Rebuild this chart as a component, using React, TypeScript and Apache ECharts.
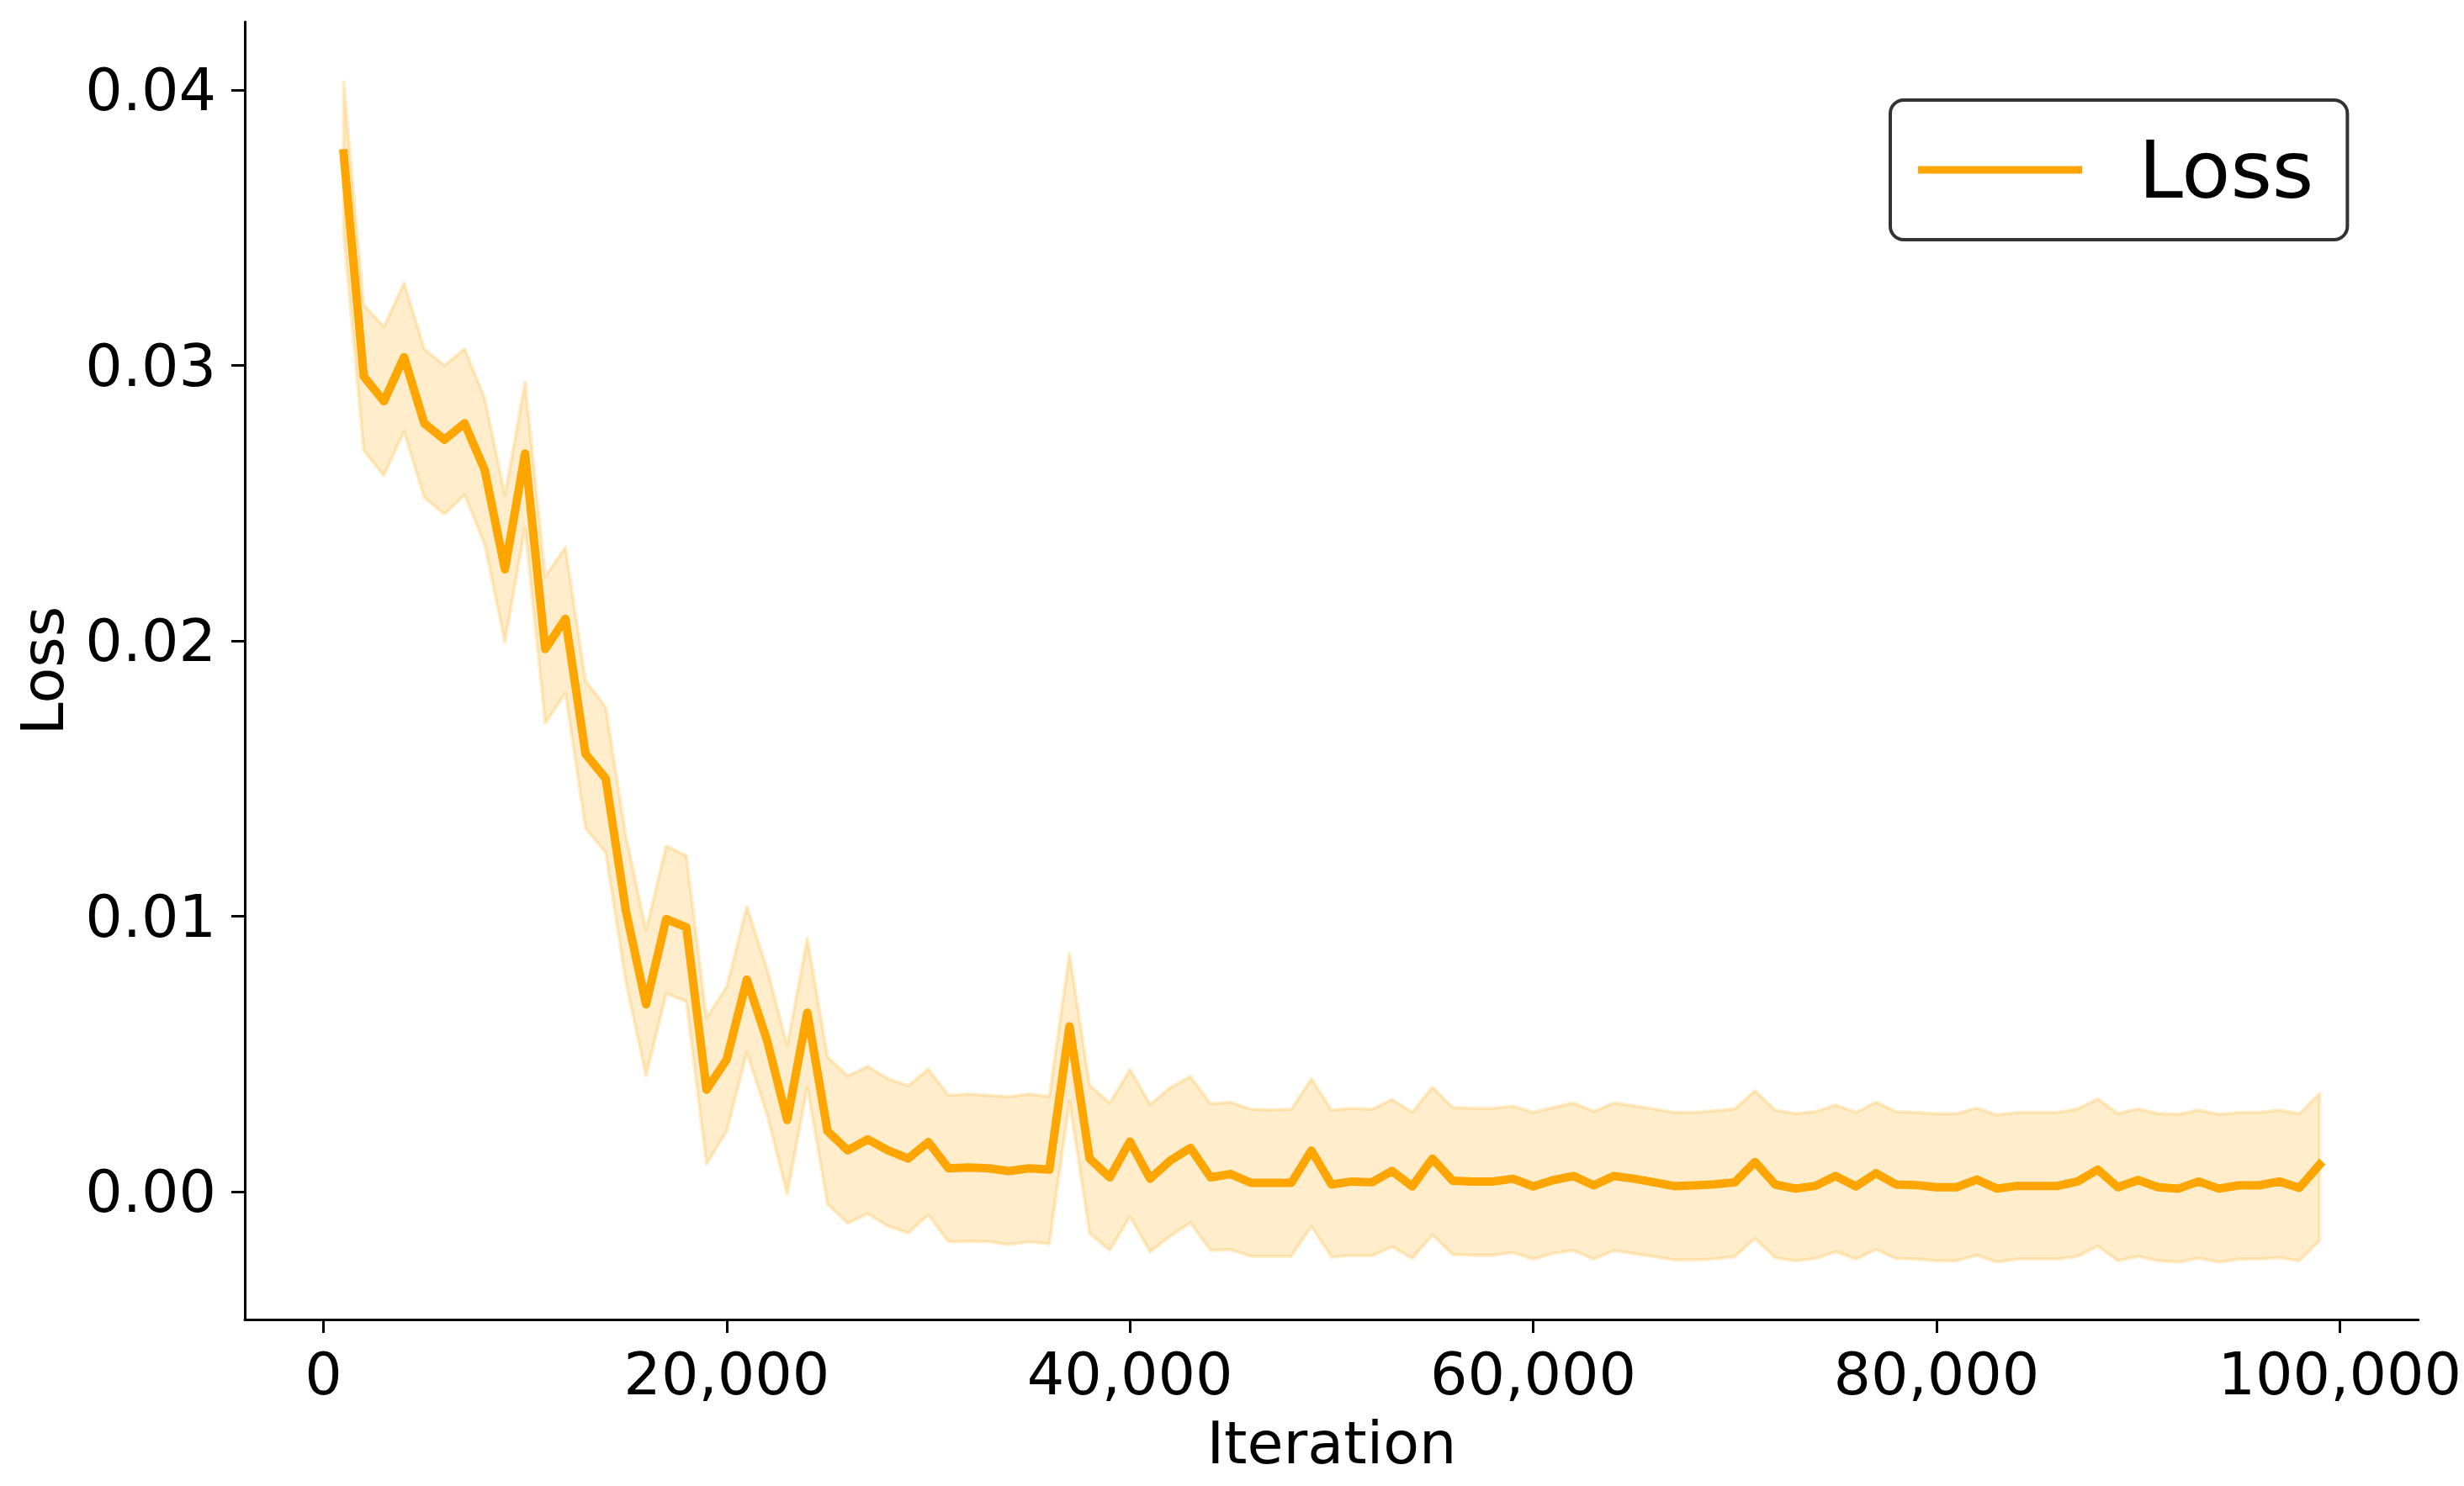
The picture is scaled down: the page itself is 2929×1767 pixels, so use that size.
import React, { useEffect, useRef } from "react";
import * as echarts from "echarts";

// ---- data (loss values in units of 1e-3 are converted below) ----
const iterations: number[] = [
  1000, 2000, 3000, 4000, 5000, 6000, 7000, 8000, 9000, 10000,
  11000, 12000, 13000, 14000, 15000, 16000, 17000, 18000, 19000, 20000,
  21000, 22000, 23000, 24000, 25000, 26000, 27000, 28000, 29000, 30000,
  31000, 32000, 33000, 34000, 35000, 36000, 37000, 38000, 39000, 40000,
  41000, 42000, 43000, 44000, 45000, 46000, 47000, 48000, 49000, 50000,
  51000, 52000, 53000, 54000, 55000, 56000, 57000, 58000, 59000, 60000,
  61000, 62000, 63000, 64000, 65000, 66000, 67000, 68000, 69000, 70000,
  71000, 72000, 73000, 74000, 75000, 76000, 77000, 78000, 79000, 80000,
  81000, 82000, 83000, 84000, 85000, 86000, 87000, 88000, 89000, 90000,
  91000, 92000, 93000, 94000, 95000, 96000, 97000, 98000, 99000,
];

// mean loss (x1e-3)
const lossMean: number[] = [
  37.7, 29.6, 28.7, 30.3, 27.9, 27.3, 27.9, 26.2, 22.6, 26.8,
  19.7, 20.8, 15.9, 15.0, 10.2, 6.8, 9.9, 9.6, 3.7, 4.8,
  7.7, 5.5, 2.6, 6.5, 2.2, 1.5, 1.9, 1.5, 1.2, 1.8,
  0.85, 0.88, 0.85, 0.75, 0.85, 0.8, 6.0, 1.2, 0.52, 1.82,
  0.47, 1.13, 1.59, 0.52, 0.64, 0.32, 0.32, 0.32, 1.49, 0.26,
  0.37, 0.34, 0.75, 0.19, 1.2, 0.4, 0.37, 0.37, 0.47, 0.19,
  0.42, 0.57, 0.23, 0.57, 0.47, 0.34, 0.2, 0.23, 0.27, 0.34,
  1.08, 0.26, 0.11, 0.21, 0.57, 0.19, 0.67, 0.26, 0.24, 0.16,
  0.16, 0.44, 0.11, 0.21, 0.21, 0.21, 0.37, 0.8, 0.16, 0.42,
  0.16, 0.11, 0.37, 0.11, 0.23, 0.23, 0.37, 0.14, 0.98,
];

// upper edge of the shaded band (x1e-3)
const lossUpper: number[] = [
  40.3, 32.2, 31.4, 33.0, 30.6, 30.0, 30.6, 28.8, 25.3, 29.4,
  22.35, 23.4, 18.55, 17.6, 12.9, 9.5, 12.55, 12.2, 6.3, 7.45,
  10.35, 8.1, 5.3, 9.2, 4.9, 4.2, 4.55, 4.1, 3.85, 4.45,
  3.5, 3.55, 3.5, 3.45, 3.54, 3.46, 8.65, 3.86, 3.22, 4.44,
  3.17, 3.78, 4.18, 3.19, 3.25, 2.99, 2.98, 2.99, 4.1, 2.96,
  3.03, 2.99, 3.35, 2.88, 3.8, 3.06, 3.03, 3.03, 3.11, 2.88,
  3.06, 3.22, 2.91, 3.22, 3.12, 3.0, 2.88, 2.88, 2.94, 3.01,
  3.67, 2.96, 2.84, 2.91, 3.15, 2.88, 3.25, 2.91, 2.88, 2.83,
  2.83, 3.04, 2.79, 2.88, 2.88, 2.88, 3.01, 3.37, 2.84, 3.01,
  2.84, 2.81, 2.96, 2.81, 2.88, 2.88, 2.96, 2.83, 3.57,
];

// lower edge of the shaded band (x1e-3)
const lossLower: number[] = [
  34.8, 26.9, 26.0, 27.6, 25.2, 24.6, 25.3, 23.5, 19.95, 24.1,
  17.0, 18.1, 13.2, 12.3, 7.6, 4.2, 7.2, 6.9, 1.0, 2.2,
  5.05, 2.8, -0.1, 3.8, -0.45, -1.15, -0.8, -1.25, -1.5, -0.85,
  -1.82, -1.8, -1.82, -1.92, -1.82, -1.89, 3.28, -1.52, -2.13, -0.91,
  -2.18, -1.62, -1.13, -2.13, -2.11, -2.35, -2.35, -2.35, -1.26, -2.38,
  -2.31, -2.33, -2.0, -2.43, -1.57, -2.28, -2.31, -2.31, -2.21, -2.45,
  -2.24, -2.14, -2.45, -2.14, -2.25, -2.36, -2.48, -2.48, -2.44, -2.36,
  -1.7, -2.4, -2.51, -2.43, -2.18, -2.45, -2.1, -2.43, -2.45, -2.51,
  -2.51, -2.31, -2.56, -2.45, -2.45, -2.45, -2.35, -1.98, -2.51, -2.35,
  -2.51, -2.56, -2.41, -2.56, -2.45, -2.45, -2.4, -2.51, -1.77,
];

const xTickValues: number[] = [0, 20000, 40000, 60000, 80000, 100000];
const yTickValues: number[] = [0, 0.01, 0.02, 0.03, 0.04];

const SCALE = 0.001;
const FONT = "DejaVu Sans";
const ORANGE = "#FFA500";

export default function App() {
  const ref = useRef<HTMLDivElement>(null);

  useEffect(() => {
    document.body.style.margin = "0";
    if (!ref.current) return;
    const chart = echarts.init(ref.current, null, { renderer: "svg" });

    const meanData = iterations.map((x, i) => [x, lossMean[i] * SCALE]);
    const bandData = iterations.map((x, i) => [x, lossLower[i] * SCALE, lossUpper[i] * SCALE]);

    const option: any = {
      animation: false,
      backgroundColor: "#ffffff",
      grid: { left: 291, right: 52, top: 26, bottom: 198, containLabel: false },
      legend: {
        show: true,
        data: [{ name: "Loss", icon: "rect" }],
        left: 2247,
        top: 119,
        orient: "horizontal",
        itemWidth: 195,
        itemHeight: 9,
        padding: [35, 40, 35, 33],
        backgroundColor: "#ffffff",
        borderColor: "#333333",
        borderWidth: 4,
        borderRadius: 16,
        textStyle: {
          fontFamily: FONT,
          fontSize: 95,
          color: "#000000",
          lineHeight: 96,
          padding: [0, 0, 0, 62],
        },
      },
      xAxis: {
        type: "value",
        min: -3900,
        max: 103900,
        name: "Iteration",
        nameLocation: "middle",
        nameGap: 112,
        nameTextStyle: { fontFamily: FONT, fontSize: 70, color: "#000000" },
        axisLine: { show: true, onZero: false, lineStyle: { color: "#000000", width: 3 } },
        axisTick: {
          show: true,
          length: 16,
          lineStyle: { color: "#000000", width: 3 },
          customValues: xTickValues,
        },
        axisLabel: {
          fontFamily: FONT,
          fontSize: 70,
          color: "#000000",
          margin: 30,
          customValues: xTickValues,
          formatter: (v: number) => v.toLocaleString("en-US"),
        },
        splitLine: { show: false },
      },
      yAxis: {
        type: "value",
        min: -0.004641,
        max: 0.042474,
        name: "Loss",
        nameLocation: "middle",
        nameGap: 205,
        nameRotate: 90,
        nameTextStyle: { fontFamily: FONT, fontSize: 70, color: "#000000" },
        axisLine: { show: true, onZero: false, lineStyle: { color: "#000000", width: 3 } },
        axisTick: {
          show: true,
          length: 16,
          lineStyle: { color: "#000000", width: 3 },
          customValues: yTickValues,
        },
        axisLabel: {
          fontFamily: FONT,
          fontSize: 70,
          color: "#000000",
          margin: 34,
          customValues: yTickValues,
          formatter: (v: number) => v.toFixed(2),
        },
        splitLine: { show: false },
      },
      series: [
        {
          name: "band",
          type: "custom",
          data: bandData,
          encode: { x: 0, y: [1, 2] },
          silent: true,
          z: 1,
          renderItem: (params: any, api: any) => {
            if (params.dataIndex !== 0) return null;
            const top = bandData.map((d) => api.coord([d[0], d[2]]));
            const bottom = bandData
              .slice()
              .reverse()
              .map((d) => api.coord([d[0], d[1]]));
            return {
              type: "polygon",
              shape: { points: top.concat(bottom) },
              style: {
                fill: "rgba(255,165,0,0.2)",
                stroke: "rgba(255,165,0,0.2)",
                lineWidth: 4,
                lineJoin: "round",
              },
            };
          },
        },
        {
          name: "Loss",
          type: "line",
          data: meanData,
          showSymbol: false,
          symbol: "none",
          color: ORANGE,
          itemStyle: { color: ORANGE },
          lineStyle: { color: ORANGE, width: 10, cap: "square", join: "round" },
          z: 3,
        },
      ],
    };

    chart.setOption(option);
    return () => {
      chart.dispose();
    };
  }, []);

  return (
    <div
      ref={ref}
      style={{ position: "fixed", left: 0, top: 0, width: 2929, height: 1767, background: "#fff" }}
    />
  );
}
